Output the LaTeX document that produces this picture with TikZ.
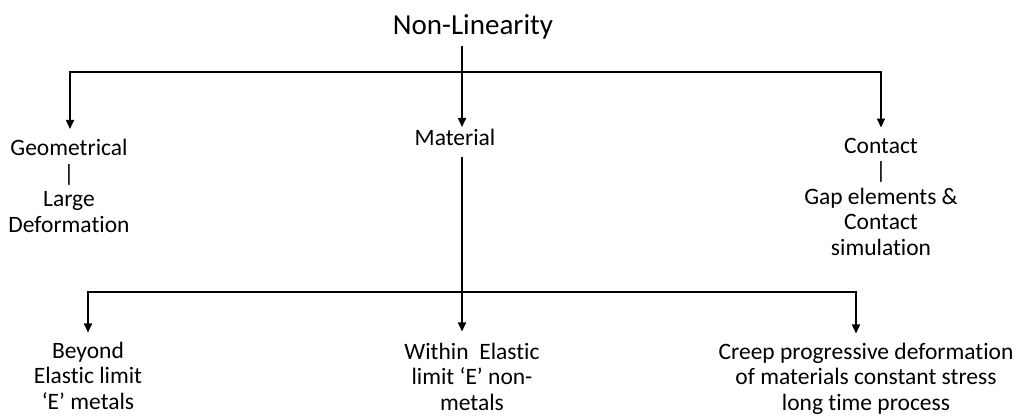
\documentclass[tikz,border=0pt]{standalone}
\usepackage{fontspec}
\setmainfont{Carlito}[Ligatures=NoCommon]
\usepackage{tikz}
\usetikzlibrary{arrows.meta}
\newcommand{\labelfont}{\fontsize{23.5}{25.5}\selectfont}

\begin{document}
\begin{tikzpicture}[x=1pt, y=1pt,
                    every node/.style={inner sep=0pt, align=center, anchor=base},
                    label/.style={font=\labelfont},
                    link/.style={line width=1.6pt, line cap=rect},
                    arrow/.style={link, -{Triangle[length=9pt, width=8pt]}}]
  \useasboundingbox (0,0) rectangle (1017,-416);
  % top level
  \node[font=\fontsize{29}{32}\selectfont] (title) at (473,-34) {Non-Linearity};
  \coordinate (jn) at (462,-72);
  \coordinate (hl) at (70,-72);
  \coordinate (hr) at (881,-72);
  \node[label] (geo) at (69,-232) {Geometrical\\|\\Large\\Deformation};
  \node[label] (mat) at (455,-145) {Material};
  \node[label] (con) at (881,-255) {Contact\\|\\Gap elements \&\\Contact\\simulation};
  % material branch
  \coordinate (bl) at (88,-292);
  \coordinate (br) at (856,-292);
  \node[label] (beyond) at (88,-409) {Beyond\\Elastic limit\\‘E’ metals};
  \node[label] (within) at (472,-410) {Within\ \ Elastic\\limit ‘E’ non-\\metals};
  \node[label] (creep) at (866,-410) {Creep progressive deformation\\of materials constant stress\\long time process};
  \draw[link] (hl) -- (hr);
  \draw[arrow, shorten <=8pt, shorten >=1.5pt] (title.south -| jn) -- (mat.north -| jn);
  \draw[arrow, shorten >=10pt] (hl) -- (geo.north -| hl);
  \draw[arrow, shorten >=10pt] (hr) -- (con.north -| hr);
  \draw[link] (bl) -- (br);
  \draw[arrow, shorten <=12pt, shorten >=11pt] (mat.south -| jn) -- (within.north -| jn);
  \draw[arrow, shorten >=9pt] (bl) -- (beyond.north -| bl);
  \draw[arrow, shorten >=9pt] (br) -- (creep.north -| br);
\end{tikzpicture}
\end{document}
